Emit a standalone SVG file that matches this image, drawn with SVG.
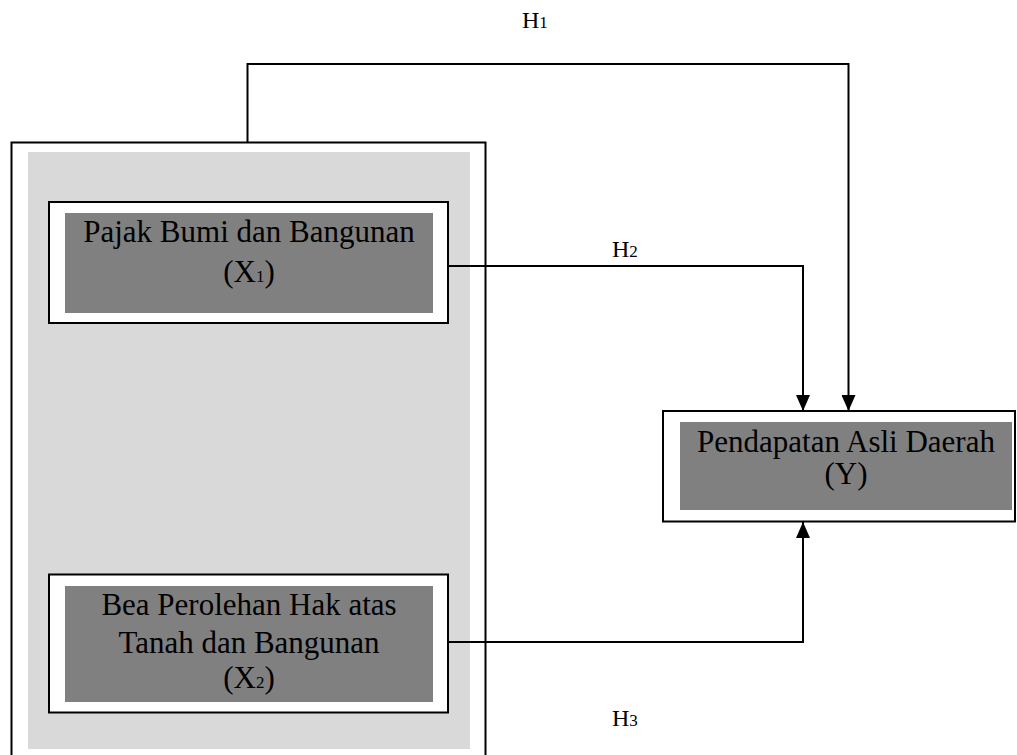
<svg xmlns="http://www.w3.org/2000/svg" width="1017" height="755" viewBox="0 0 1017 755">
<defs>
<style>
.frame{fill:#fff;stroke:#000;stroke-width:2}
.fill{fill:#808080}
.t{font-family:"Liberation Serif","Times New Roman",serif;font-size:31px;fill:#000;text-anchor:middle}
.h{font-family:"Liberation Serif","Times New Roman",serif;font-size:24px;fill:#000}
.sub{font-size:17px}
.conn{fill:none;stroke:#000;stroke-width:2}
</style>
<marker id="arr" markerWidth="16" markerHeight="14" refX="16" refY="7" orient="auto" markerUnits="userSpaceOnUse" viewBox="0 0 16 14">
<path d="M0,0 L16,7 L0,14 Z" fill="#000"/>
</marker>
</defs>
<rect width="1017" height="755" fill="#fff"/>
<g id="group-X">
<rect class="frame" x="11.5" y="142.5" width="474" height="630"/>
<rect x="28" y="152" width="442" height="597" fill="#d9d9d9"/>
</g>
<g id="node-X1">
<rect class="frame" x="49" y="202" width="399" height="121"/>
<rect class="fill" x="65" y="213" width="368" height="100"/>
<text class="t" x="249" y="242">Pajak Bumi dan Bangunan</text>
<text class="t" x="249" y="282">(X<tspan class="sub">1</tspan>)</text>
</g>
<g id="node-X2">
<rect class="frame" x="49" y="574.5" width="399" height="138"/>
<rect class="fill" x="65" y="586" width="368" height="116"/>
<text class="t" x="249" y="615">Bea Perolehan Hak atas</text>
<text class="t" x="249" y="653">Tanah dan Bangunan</text>
<text class="t" x="249" y="688">(X<tspan class="sub">2</tspan>)</text>
</g>
<g id="node-Y">
<rect class="frame" x="663" y="411" width="352" height="110.5"/>
<rect class="fill" x="680" y="422" width="332" height="88"/>
<text class="t" x="846" y="452">Pendapatan Asli Daerah</text>
<text class="t" x="846" y="484">(Y)</text>
</g>
<g id="connectors">
<path class="conn" d="M247.5,142 V64 H848.5 V411" marker-end="url(#arr)"/>
<path class="conn" d="M448,266 H803 V411" marker-end="url(#arr)"/>
<path class="conn" d="M448,642 H803 V522" marker-end="url(#arr)"/>
<text class="h" x="522" y="28">H<tspan class="sub">1</tspan></text>
<text class="h" x="612" y="257">H<tspan class="sub">2</tspan></text>
<text class="h" x="612" y="726">H<tspan class="sub">3</tspan></text>
</g>
</svg>
